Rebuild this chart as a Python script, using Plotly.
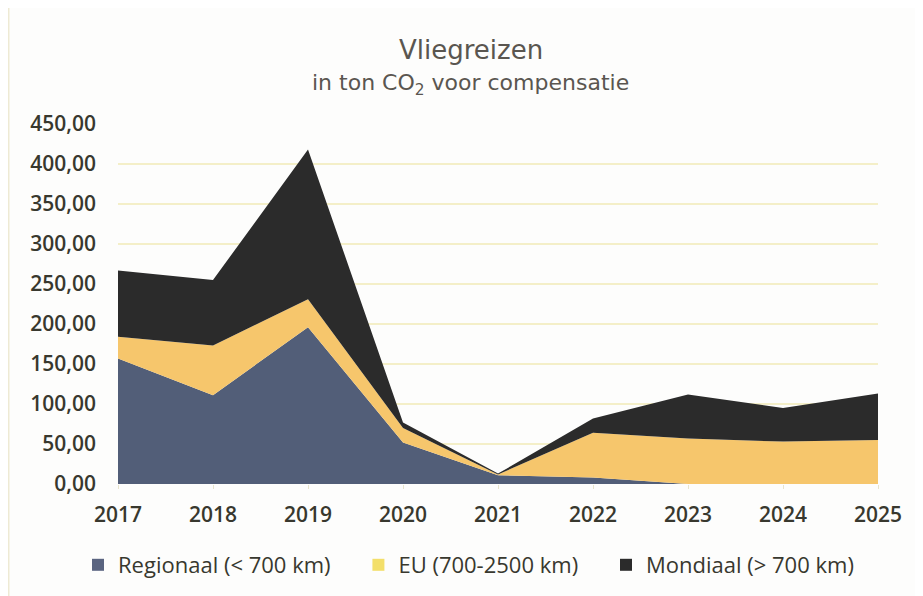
import plotly.graph_objects as go

years = [2017, 2018, 2019, 2020, 2021, 2022, 2023, 2024, 2025]
regionaal = [157, 111, 196, 52, 11, 8, 0, 0, 0]
eu = [27, 62, 35, 18, 1, 56, 57, 53, 55]
mondiaal = [83, 82, 187, 7, 1, 18, 55, 42, 58]
y_ticks = [0, 50, 100, 150, 200, 250, 300, 350, 400, 450]

names = ["Regionaal (< 700 km)", "EU (700-2500 km)", "Mondiaal (> 700 km)"]
PAD = "\u00a0" * 4
legend_labels = [names[0] + PAD, names[1] + PAD, names[2]]

series = [
    (names[0], legend_labels[0], regionaal, "#525e78", "#5a6480"),
    (names[1], legend_labels[1], eu, "#f6c66c", "#f3df6a"),
    (names[2], legend_labels[2], mondiaal, "#2b2b2b", "#2b2b2b"),
]

fig = go.Figure()
for name, lab, vals, col, lcol in series:
    fig.add_trace(go.Scatter(
        x=years, y=vals, name=name, mode="lines",
        stackgroup="one", line=dict(width=0, color=col),
        fillcolor=col, showlegend=False,
    ))
for name, lab, vals, col, lcol in series:
    fig.add_trace(go.Scatter(
        x=[None], y=[None], name=lab, mode="markers",
        marker=dict(symbol="square", size=12, color=lcol),
        showlegend=True, hoverinfo="skip",
    ))

TICK_FONT = dict(family="Open Sans, sans-serif", size=21, color="#38382e", weight=600)

fig.update_layout(
    width=923, height=596,
    paper_bgcolor="#fdfdfc", plot_bgcolor="#fdfdfc",
    margin=dict(l=110, r=53, t=116, b=120),
    separators=",.",
    font=dict(family="Open Sans, sans-serif", color="#333333"),
    xaxis=dict(
        range=[2017, 2025], tickvals=years, ticktext=[str(y) for y in years],
        showgrid=False, zeroline=False, showline=False,
        ticks="outside", ticklen=4, tickcolor="#e8e4cc",
        tickfont=TICK_FONT, ticklabelstandoff=8,
    ),
    yaxis=dict(
        range=[0, 450], tickvals=y_ticks, tickformat=".2f",
        showgrid=True, gridcolor="#f4efc8", gridwidth=1.5,
        zeroline=False, showline=False,
        tickfont=TICK_FONT,
        ticklabelstandoff=21,
    ),
    legend=dict(
        orientation="h", x=-0.0526, xanchor="left", y=-0.225, yanchor="middle",
        font=dict(family="Open Sans, sans-serif", size=22, color="#38382e"),
        traceorder="normal", itemwidth=30, itemsizing="constant",
    ),
    annotations=[
        dict(text="Vliegreizen", xref="paper", yref="paper", x=0.464, y=1.2056,
             xanchor="center", yanchor="middle", showarrow=False,
             font=dict(family="DejaVu Sans, sans-serif", size=26, color="#5a5650")),
        dict(text="in ton CO<sub>2</sub> voor compensatie", xref="paper", yref="paper",
             x=0.464, y=1.1111, xanchor="center", yanchor="middle", showarrow=False,
             font=dict(family="DejaVu Sans, sans-serif", size=22, color="#5a5650")),
    ],
)
fig.add_shape(type="line", xref="paper", yref="paper", x0=-0.1441, x1=-0.1441,
              y0=-0.35, y1=1.35, line=dict(color="#eeead4", width=2))

fig.write_html("out.html")
